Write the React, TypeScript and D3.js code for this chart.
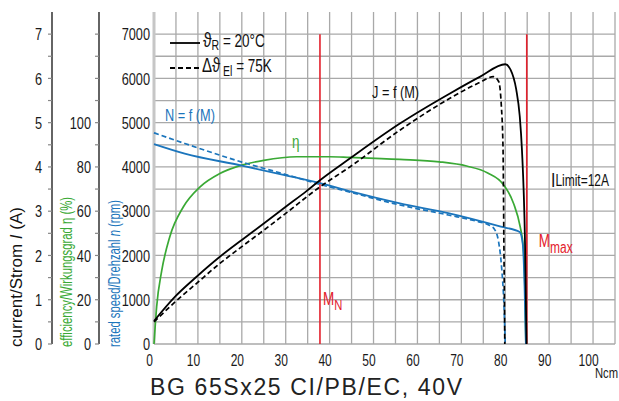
import * as d3 from "d3";
import type { ReactNode } from "react";

// torque axis (Ncm)
const xTicks = [0, 10, 20, 30, 40, 50, 60, 70, 80, 90, 100];
const xGrid = d3.range(0, 106, 5);
// speed grid (rpm)
const rpmTicks = [0, 1000, 2000, 3000, 4000, 5000, 6000, 7000];
const rpmGrid = d3.range(0, 7001, 500);
const currentTicks = [0, 1, 2, 3, 4, 5, 6, 7];
const currentMinor = d3.range(0, 7.01, 0.5);
const effTicks = [0, 20, 40, 60, 80, 100];
const effMinor = d3.range(0, 140.1, 10);

// reference torques
const markers = [
  { label: "M", sub: "N", value: 37.8 },
  { label: "M", sub: "max", value: 84.9 },
];

// speed n = f(M), rpm
const speedSolid: [number, number][] = [
  [0, 4515], [7, 4300], [20, 4030], [30, 3810], [38, 3630], [45, 3440],
  [56, 3175], [67, 2955], [79, 2650], [83.3, 2530], [84.0, 2250],
  [84.4, 1300], [84.7, 0],
];
const speedDashed: [number, number][] = [
  [0, 4770], [7, 4530], [20, 4110], [30, 3830], [38, 3600], [45, 3420],
  [56, 3140], [67, 2915], [74, 2760], [76, 2700], [77.5, 2600],
  [78.5, 2300], [79.2, 1700], [79.7, 900], [80, 0],
];

// current J = f(M), A
const currentSolid: [number, number][] = [
  [0, 0.52], [4.8, 1.07], [9.7, 1.52], [15, 1.97], [20, 2.35], [25, 2.72],
  [30, 3.1], [34.8, 3.46], [37.8, 3.7], [44.6, 4.19], [56, 4.98],
  [67.4, 5.66], [74.3, 6.04], [80, 6.32], [81.2, 6.2], [82.5, 5.75],
  [83.3, 5.15], [83.8, 4.4], [84.5, 2.3], [84.85, 0],
];
const currentDashed: [number, number][] = [
  [0, 0.5], [4.8, 0.95], [9.7, 1.37], [15, 1.82], [20, 2.2], [25, 2.57],
  [30, 2.95], [37.8, 3.55], [44.6, 4.0], [56, 4.83], [67.4, 5.55],
  [74, 5.9], [77.3, 6.04], [78.5, 5.93], [79.1, 5.4], [79.5, 4.4],
  [79.7, 2.2], [79.9, 0],
];

// efficiency, %
const efficiency: [number, number][] = [
  [0, 0], [0.6, 16.8], [1.75, 33], [3.6, 48.5], [6.7, 62], [10.5, 71],
  [15, 77], [20, 80.8], [25, 83], [32.5, 84.6], [40, 84.6], [44.6, 84.3],
  [56, 83.4], [65, 82.3], [71.2, 80.4], [76, 77.3], [79.6, 72],
  [81.9, 63.5], [83.4, 53], [84.1, 44], [84.5, 24], [84.7, 0],
];

const W = 619;
const H = 401;
const FONT = "'Liberation Sans', Arial, sans-serif";
const SX = 0.75; // condensed look
const BLUE = "#1b75bc";
const GREEN = "#3aa935";
const RED = "#e3202c";
const GRID = "#a9a9a9";

// narrow text: scaled horizontally around its anchor point
function T({
  x,
  y,
  size,
  fill = "#1a1a1a",
  anchor = "start",
  dy,
  children,
}: {
  x: number;
  y: number;
  size: number;
  fill?: string;
  anchor?: "start" | "middle" | "end";
  dy?: string;
  children: ReactNode;
}) {
  return (
    <text
      transform={`translate(${x},${y}) scale(${SX},1)`}
      textAnchor={anchor}
      fontSize={size}
      fill={fill}
      dy={dy}
    >
      {children}
    </text>
  );
}

export default function App() {
  const x = d3.scaleLinear().domain([0, 105]).range([154, 615]);
  const y = d3.scaleLinear().domain([0, 7500]).range([344, 12]);
  const yI = d3.scaleLinear().domain([0, 7.5]).range([344, 12]);
  const yE = d3.scaleLinear().domain([0, 150]).range([344, 12]);

  const mk = (sy: d3.ScaleLinear<number, number>) =>
    d3
      .line<[number, number]>()
      .x((d) => x(d[0]))
      .y((d) => sy(d[1]))
      .curve(d3.curveMonotoneX);

  const lineN = mk(y);
  const lineI = mk(yI);
  const lineE = mk(yE);

  const top = y.range()[1];
  const bottom = y(0);

  return (
    <svg
      width={W}
      height={H}
      style={{ position: "absolute", left: 0, top: 0, background: "#fff" }}
      fontFamily={FONT}
    >
      {/* grid */}
      {rpmGrid.map((v) => (
        <line key={"h" + v} x1={x(0)} x2={x(105)} y1={y(v)} y2={y(v)} stroke={GRID} strokeWidth={1.3} />
      ))}
      {xGrid.map((v) => (
        <line
          key={"v" + v}
          x1={x(v)}
          x2={x(v)}
          y1={top}
          y2={bottom}
          stroke={v === 0 ? "#c6c6c6" : GRID}
          strokeWidth={v === 0 ? 3 : 1.3}
        />
      ))}

      {/* current axis */}
      <line x1={52} x2={52} y1={top} y2={bottom} stroke="#111" strokeWidth={1.3} />
      {currentMinor.map((v) => (
        <line key={"ct" + v} x1={48} x2={52} y1={yI(v)} y2={yI(v)} stroke="#888" strokeWidth={1.2} />
      ))}
      {currentTicks.map((v) => (
        <T key={"cl" + v} x={42} y={yI(v)} dy="0.36em" anchor="end" size={17}>
          {v}
        </T>
      ))}

      {/* efficiency axis */}
      <line x1={99} x2={99} y1={top} y2={bottom} stroke="#111" strokeWidth={1.3} />
      {effMinor.map((v) => (
        <line key={"et" + v} x1={95} x2={99} y1={yE(v)} y2={yE(v)} stroke="#888" strokeWidth={1.2} />
      ))}
      {effTicks.map((v) => (
        <T key={"el" + v} x={91} y={yE(v)} dy="0.36em" anchor="end" size={17}>
          {v}
        </T>
      ))}

      {/* rpm labels */}
      {rpmTicks.map((v) => (
        <T key={"rl" + v} x={150} y={y(v)} dy="0.36em" anchor="end" size={17}>
          {v}
        </T>
      ))}

      {/* x labels */}
      {xTicks.map((v) => (
        <T key={"xl" + v} x={x(v) - 4.5} y={366} anchor="middle" size={16}>
          {v}
        </T>
      ))}
      <T x={618} y={378} anchor="end" size={15}>
        Ncm
      </T>

      {/* axis titles */}
      <text transform="translate(22,347) rotate(-90)" fontSize={16} fill="#111" textLength={140} lengthAdjust="spacingAndGlyphs">
        current/Strom  <tspan fontStyle="italic">I</tspan> (A)
      </text>
      <text transform="translate(72,347) rotate(-90)" fontSize={16} fill={GREEN} textLength={150} lengthAdjust="spacingAndGlyphs">
        efficiency/Wirkungsgrad η  (%)
      </text>
      <text transform="translate(120,347) rotate(-90)" fontSize={16} fill={BLUE} textLength={147} lengthAdjust="spacingAndGlyphs">
        rated speed/Drehzahl  <tspan fontStyle="italic">n</tspan> (rpm)
      </text>

      {/* reference torques */}
      {markers.map((m) => (
        <line key={"m" + m.sub} x1={x(m.value)} x2={x(m.value)} y1={y(7000)} y2={bottom} stroke={RED} strokeWidth={1.6} />
      ))}

      {/* curves */}
      <path d={lineE(efficiency) ?? ""} fill="none" stroke={GREEN} strokeWidth={1.7} />
      <path d={lineN(speedDashed) ?? ""} fill="none" stroke={BLUE} strokeWidth={1.7} strokeDasharray="5,3" />
      <path d={lineN(speedSolid) ?? ""} fill="none" stroke={BLUE} strokeWidth={1.8} />
      <path d={lineI(currentDashed) ?? ""} fill="none" stroke="#000" strokeWidth={1.7} strokeDasharray="5,3" />
      <path d={lineI(currentSolid) ?? ""} fill="none" stroke="#000" strokeWidth={1.8} />

      {/* marker labels */}
      <T x={x(markers[0].value) + 3} y={305} size={18} fill={RED}>
        {markers[0].label}
        <tspan fontSize={15} dy={5}>{markers[0].sub}</tspan>
      </T>
      <T x={x(markers[1].value) + 12} y={247} size={18} fill={RED}>
        {markers[1].label}
        <tspan fontSize={16} dy={6}>{markers[1].sub}</tspan>
      </T>

      {/* curve labels */}
      <T x={165} y={121} size={17} fill={BLUE}>N = f (M)</T>
      <T x={372} y={98} size={17} fill="#111">J = f (M)</T>
      <T x={292} y={148} size={18} fill={GREEN}>η</T>
      <T x={551} y={187} size={21} fill="#111">
        I<tspan fontSize={16} dy={-1}>Limit=12A</tspan>
      </T>

      {/* legend */}
      <line x1={170} x2={200} y1={43} y2={43} stroke="#000" strokeWidth={1.8} />
      <T x={203} y={47} size={18} fill="#111">
        <tspan fontSize={21}>ϑ</tspan>
        <tspan fontSize={14} dy={3}>R</tspan>
        <tspan dy={-3}> = 20°C</tspan>
      </T>
      <line x1={170} x2={200} y1={68} y2={68} stroke="#000" strokeWidth={1.8} strokeDasharray="5,3" />
      <T x={202} y={72} size={18} fill="#111">
        <tspan fontSize={20}>Δϑ</tspan>
        <tspan fontSize={14} dy={4}> El</tspan>
        <tspan dy={-4}> = 75K</tspan>
      </T>

      {/* title */}
      <text x={150} y={395} fontFamily={FONT} fontSize={23} fill="#222" textLength={312} lengthAdjust="spacing">
        BG 65Sx25 CI/PB/EC, 40V
      </text>
    </svg>
  );
}
